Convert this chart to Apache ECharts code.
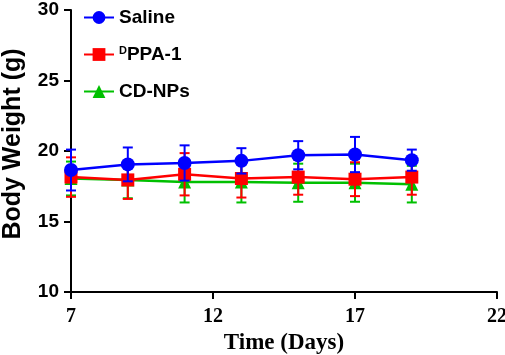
<!DOCTYPE html>
<html>
<head>
<meta charset="utf-8">
<script src="https://cdn.jsdelivr.net/npm/echarts@6/dist/echarts.min.js"></script>
<style>
  html, body { margin: 0; padding: 0; background: #fff; }
  #chart { width: 505px; height: 355px; }
</style>
</head>
<body>
<div id="chart"></div>
<script>
  // data
  var days = [7, 9, 11, 13, 15, 17, 19];

  var saline = [18.65, 19.05, 19.15, 19.3, 19.7, 19.75, 19.35];
  var salineErr = [1.45, 1.2, 1.25, 0.9, 1.0, 1.25, 0.75];

  var dppa = [18.15, 17.95, 18.35, 18.05, 18.15, 18.0, 18.15];
  var dppaErr = [1.4, 1.35, 1.5, 1.35, 1.25, 1.2, 1.25];

  var cdnps = [18.05, 17.95, 17.8, 17.8, 17.75, 17.75, 17.65];
  var cdnpsErr = [1.2, 1.3, 1.45, 1.45, 1.35, 1.35, 1.3];

  var xTicks = [7, 12, 17, 22];
  var yTicks = [10, 15, 20, 25, 30];

  var BLUE = '#0000ff', RED = '#ff0000', GREEN = '#00c000';

  function pts(vals) {
    return days.map(function (d, i) { return [d, vals[i]]; });
  }
  function errPts(vals, errs) {
    return days.map(function (d, i) { return [d, vals[i] - errs[i], vals[i] + errs[i]]; });
  }

  // error bar drawn through the axes
  function errSeries(name, vals, errs, color, z) {
    return {
      type: 'custom',
      name: name + ' err',
      z: z,
      data: errPts(vals, errs),
      renderItem: function (params, api) {
        var x = api.value(0);
        var lo = api.coord([x, api.value(1)]);
        var hi = api.coord([x, api.value(2)]);
        var w = 5;
        var st = { stroke: color, lineWidth: 2 };
        return {
          type: 'group',
          children: [
            { type: 'line', shape: { x1: lo[0], y1: lo[1], x2: hi[0], y2: hi[1] }, style: st },
            { type: 'line', shape: { x1: lo[0] - w, y1: lo[1], x2: lo[0] + w, y2: lo[1] }, style: st },
            { type: 'line', shape: { x1: hi[0] - w, y1: hi[1], x2: hi[0] + w, y2: hi[1] }, style: st }
          ]
        };
      }
    };
  }

  function lineSeries(name, vals, color, symbol, size, z) {
    return {
      type: 'line',
      name: name,
      z: z,
      data: pts(vals),
      symbol: symbol,
      symbolSize: size,
      showAllSymbol: true,
      lineStyle: { color: color, width: 2.5 },
      itemStyle: { color: color, opacity: 1 }
    };
  }

  var myChart = echarts.init(document.getElementById('chart'));

  myChart.setOption({
    animation: false,
    backgroundColor: '#fff',
    grid: { left: 71, right: 8, top: 10, bottom: 63, containLabel: false, outerBoundsMode: 'none' },
    legend: {
      orient: 'vertical',
      left: 78,
      top: 3,
      itemWidth: 30,
      itemHeight: 16,
      itemGap: 18,
      data: ['Saline', 'DPPA-1', 'CD-NPs'],
      formatter: function (n) {
        return n === 'DPPA-1' ? '{sup|D}{b|PPA-1}' : '{b|' + n + '}';
      },
      textStyle: {
        fontFamily: 'Liberation Sans',
        fontWeight: 'bold',
        fontSize: 19,
        color: '#000',
        rich: {
          b: { fontFamily: 'Liberation Sans', fontWeight: 'bold', fontSize: 19, color: '#000', lineHeight: 20 },
          sup: { fontFamily: 'Liberation Sans', fontWeight: 'bold', fontSize: 11, color: '#000', padding: [0, 0, 8, 0] }
        }
      }
    },
    xAxis: {
      type: 'value',
      min: xTicks[0],
      max: xTicks[xTicks.length - 1],
      interval: 5,
      splitLine: { show: false },
      axisLine: { show: true, onZero: false, lineStyle: { color: '#000', width: 2 } },
      axisTick: { show: true, inside: false, length: 7, lineStyle: { color: '#000', width: 2 } },
      axisLabel: {
        margin: 15,
        fontFamily: 'Liberation Serif',
        fontWeight: 'bold',
        fontSize: 20,
        color: '#000'
      },
      name: 'Time (Days)',
      nameLocation: 'middle',
      nameGap: 38,
      nameTextStyle: {
        fontFamily: 'Liberation Serif',
        fontWeight: 'bold',
        fontSize: 23,
        color: '#000'
      }
    },
    yAxis: {
      type: 'value',
      min: yTicks[0],
      max: yTicks[yTicks.length - 1],
      interval: 5,
      splitLine: { show: false },
      axisLine: { show: true, onZero: false, lineStyle: { color: '#000', width: 2 } },
      axisTick: { show: true, inside: false, length: 7, lineStyle: { color: '#000', width: 2 } },
      axisLabel: {
        margin: 12,
        fontFamily: 'Liberation Sans',
        fontWeight: 'bold',
        fontSize: 19,
        color: '#000'
      },
      name: 'Body Weight (g)',
      nameLocation: 'middle',
      nameGap: 45,
      nameTextStyle: {
        fontFamily: 'Liberation Sans',
        fontWeight: 'bold',
        fontSize: 25,
        color: '#000',
        padding: [0, 0, 0, 14]
      }
    },
    series: [
      errSeries('CD-NPs', cdnps, cdnpsErr, GREEN, 2),
      lineSeries('CD-NPs', cdnps, GREEN, 'triangle', 13, 2),
      errSeries('DPPA-1', dppa, dppaErr, RED, 3),
      lineSeries('DPPA-1', dppa, RED, 'rect', 13, 3),
      errSeries('Saline', saline, salineErr, BLUE, 4),
      lineSeries('Saline', saline, BLUE, 'circle', 14, 4)
    ]
  });
</script>
</body>
</html>
